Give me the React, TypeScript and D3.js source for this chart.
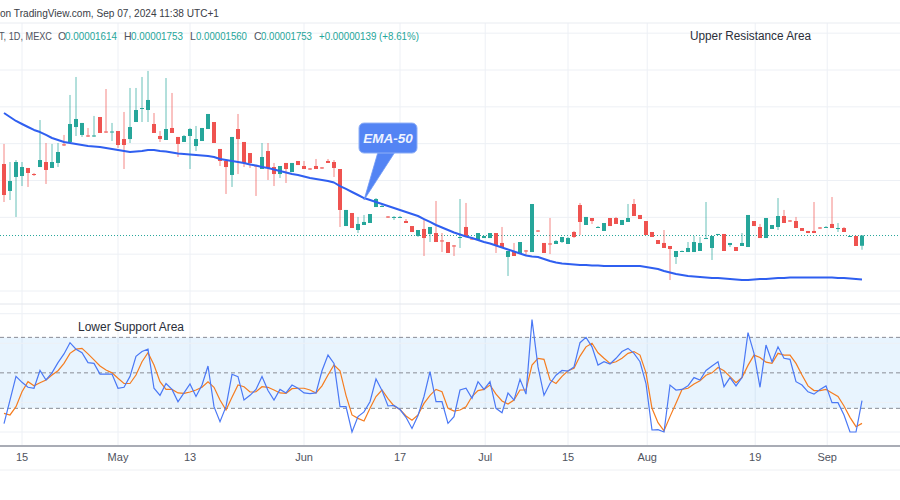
import React from 'react';
import * as d3 from 'd3';

const W = 900;
const H = 500;

// ---------- DATA (prices in units of 1e-5, daily candles) ----------
const open = [
  2.724, 2.358, 2.548, 2.561, 2.670, 2.588, 2.683, 2.751, 2.670, 2.738,
  2.990, 3.023, 3.226, 3.118, 3.111, 3.104, 3.362, 3.165, 3.158, 3.172,
  3.063, 3.063, 3.294, 3.477, 3.457, 3.267, 3.104, 3.050, 3.213, 3.091,
  3.023, 3.104, 2.968, 3.036, 3.199, 3.294, 2.928, 2.765, 2.575, 3.199,
  3.023, 2.873, 2.704, 2.656, 2.900, 2.683, 2.588, 2.738, 2.615, 2.765,
  2.697, 2.663, 2.697, 2.677, 2.765, 2.751, 2.656, 1.882, 2.059, 1.828,
  1.896, 1.923, 2.140, 2.147, 2.011, 1.998, 1.998, 1.950, 1.882, 1.747,
  1.842, 1.774, 1.787, 1.686, 1.665, 1.618, 1.726, 1.869, 1.713, 1.692,
  1.719, 1.719, 1.787, 1.652, 1.462, 1.543, 1.516, 1.550, 1.529, 1.821,
  1.652, 1.645, 1.638, 1.665, 1.638, 1.801, 2.167, 1.896, 1.991, 1.862,
  1.815, 1.991, 1.991, 1.896, 1.937, 2.181, 2.032, 1.950, 1.801, 1.692,
  1.652, 1.611, 1.462, 1.536, 1.529, 1.529, 1.543, 1.713, 1.584, 1.767,
  1.774, 1.624, 1.597, 1.611, 1.597, 1.950, 1.869, 1.719, 1.842, 1.869,
  2.018, 1.957, 1.950, 1.855, 1.815, 1.815, 1.862, 1.862, 1.910, 1.848,
  1.855, 1.740, 1.747, 1.614,
];
const high = [
  2.996, 2.751, 2.778, 2.751, 2.670, 2.602, 3.321, 3.009, 2.996, 3.009,
  3.118, 3.661, 3.905, 3.281, 3.213, 3.376, 3.362, 3.742, 3.281, 3.172,
  3.430, 3.756, 3.756, 3.905, 3.987, 3.416, 3.172, 3.891, 3.688, 3.091,
  3.118, 3.213, 3.240, 3.213, 3.403, 3.294, 2.928, 2.765, 3.091, 3.403,
  3.023, 2.873, 2.710, 3.009, 3.009, 2.738, 2.697, 2.738, 2.738, 2.765,
  2.765, 2.670, 2.792, 2.683, 2.792, 2.778, 2.656, 2.100, 2.059, 2.005,
  2.032, 2.045, 2.262, 2.167, 2.018, 2.018, 2.018, 1.977, 1.882, 1.828,
  1.964, 1.869, 2.222, 1.787, 1.665, 1.624, 2.249, 2.195, 1.719, 1.787,
  1.747, 1.787, 1.787, 1.869, 1.543, 1.652, 1.665, 1.557, 2.181, 1.828,
  1.652, 1.991, 1.692, 1.733, 1.733, 1.815, 2.195, 2.005, 1.991, 1.882,
  1.923, 1.991, 2.005, 1.964, 2.181, 2.249, 2.032, 1.950, 1.801, 1.692,
  1.828, 1.611, 1.543, 1.550, 1.665, 1.747, 1.733, 2.208, 1.747, 1.774,
  1.774, 1.652, 1.597, 1.787, 2.032, 1.950, 1.910, 1.991, 1.896, 2.262,
  2.100, 1.964, 2.005, 1.855, 1.815, 2.208, 1.869, 1.882, 2.276, 1.923,
  1.869, 1.747, 1.747, 1.753,
];
const low = [
  2.208, 2.235, 2.005, 2.425, 2.412, 2.561, 2.683, 2.453, 2.670, 2.683,
  2.968, 3.009, 3.104, 3.091, 3.091, 3.091, 3.145, 3.145, 3.036, 2.941,
  2.656, 3.009, 3.294, 3.294, 3.294, 3.145, 3.023, 3.050, 3.145, 2.819,
  3.023, 2.656, 2.900, 3.036, 3.199, 3.009, 2.697, 2.317, 2.412, 2.588,
  2.683, 2.670, 2.290, 2.656, 2.507, 2.425, 2.534, 2.466, 2.615, 2.710,
  2.656, 2.643, 2.656, 2.656, 2.738, 2.548, 1.869, 1.882, 1.855, 1.787,
  1.896, 1.923, 2.140, 2.140, 1.991, 1.964, 1.991, 1.923, 1.801, 1.733,
  1.475, 1.665, 1.665, 1.529, 1.516, 1.475, 1.584, 1.747, 1.692, 1.692,
  1.719, 1.719, 1.516, 1.584, 1.204, 1.475, 1.516, 1.489, 1.529, 1.801,
  1.516, 1.502, 1.638, 1.652, 1.638, 1.719, 1.760, 1.896, 1.910, 1.855,
  1.815, 1.882, 1.910, 1.896, 1.937, 2.018, 1.977, 1.760, 1.733, 1.638,
  1.584, 1.149, 1.367, 1.529, 1.529, 1.529, 1.543, 1.713, 1.421, 1.760,
  1.543, 1.597, 1.543, 1.611, 1.597, 1.882, 1.719, 1.719, 1.842, 1.828,
  1.923, 1.937, 1.855, 1.815, 1.787, 1.787, 1.842, 1.855, 1.855, 1.801,
  1.801, 1.733, 1.611, 1.560,
];
const close = [
  2.303, 2.493, 2.751, 2.683, 2.602, 2.575, 2.778, 2.643, 2.751, 2.887,
  2.982, 3.267, 3.335, 3.281, 3.104, 3.111, 3.145, 3.158, 3.165, 2.982,
  2.982, 3.226, 3.457, 3.484, 3.593, 3.145, 3.063, 3.199, 3.145, 2.996,
  3.104, 3.199, 3.063, 3.213, 3.403, 3.009, 2.765, 2.683, 3.091, 3.063,
  2.738, 2.738, 2.697, 2.819, 2.670, 2.588, 2.697, 2.656, 2.738, 2.710,
  2.656, 2.656, 2.656, 2.670, 2.738, 2.670, 2.100, 2.100, 1.855, 1.910,
  1.937, 2.045, 2.249, 2.154, 2.005, 2.005, 2.005, 1.923, 1.801, 1.828,
  1.719, 1.869, 1.665, 1.679, 1.516, 1.611, 1.733, 1.747, 1.706, 1.787,
  1.747, 1.787, 1.624, 1.584, 1.543, 1.475, 1.665, 1.543, 2.181, 1.815,
  1.516, 1.638, 1.679, 1.733, 1.719, 1.733, 1.937, 2.005, 1.950, 1.869,
  1.923, 1.882, 1.910, 1.964, 1.991, 2.018, 1.977, 1.760, 1.733, 1.638,
  1.584, 1.570, 1.543, 1.543, 1.584, 1.665, 1.652, 1.719, 1.747, 1.774,
  1.543, 1.652, 1.543, 1.652, 2.032, 1.882, 1.719, 1.991, 1.896, 2.018,
  1.923, 1.950, 1.855, 1.815, 1.787, 1.787, 1.855, 1.869, 1.855, 1.855,
  1.801, 1.747, 1.611, 1.753,
];
const ema50 = [
  3.416, 3.362, 3.308, 3.267, 3.226, 3.186, 3.158, 3.118, 3.077, 3.050,
  3.023, 3.009, 2.996, 2.982, 2.968, 2.962, 2.955, 2.941, 2.928, 2.914,
  2.900, 2.887, 2.894, 2.900, 2.914, 2.914, 2.900, 2.894, 2.880, 2.867,
  2.860, 2.853, 2.846, 2.839, 2.833, 2.819, 2.792, 2.778, 2.765, 2.751,
  2.738, 2.717, 2.704, 2.683, 2.670, 2.649, 2.629, 2.609, 2.588, 2.575,
  2.554, 2.534, 2.520, 2.507, 2.493, 2.473, 2.425, 2.385, 2.344, 2.303,
  2.262, 2.235, 2.208, 2.181, 2.154, 2.127, 2.100, 2.072, 2.045, 2.018,
  1.977, 1.937, 1.896, 1.862, 1.828, 1.794, 1.767, 1.740, 1.719, 1.692,
  1.665, 1.645, 1.618, 1.591, 1.563, 1.536, 1.509, 1.482, 1.468, 1.462,
  1.434, 1.407, 1.387, 1.373, 1.367, 1.360, 1.353, 1.353, 1.346, 1.346,
  1.339, 1.339, 1.339, 1.339, 1.339, 1.339, 1.339, 1.326, 1.312, 1.299,
  1.272, 1.251, 1.231, 1.217, 1.204, 1.197, 1.190, 1.183, 1.176, 1.176,
  1.170, 1.163, 1.156, 1.149, 1.149, 1.156, 1.163, 1.163, 1.170, 1.176,
  1.176, 1.183, 1.183, 1.183, 1.183, 1.183, 1.183, 1.183, 1.183, 1.176,
  1.176, 1.170, 1.163, 1.156,
];
const stochK = [
  7, 27, 47, 42, 37.8, 37, 52, 44, 50, 58.6,
  66, 75.5, 70, 67, 58.6, 58, 49, 49, 49, 37,
  37.8, 47, 64, 68, 70, 37, 31, 41, 36, 25.6,
  33, 40.6, 30, 39.7, 55.8, 21.4, 8.7, 21.4, 48.8, 46.8,
  27, 31, 36, 47, 35, 27, 36, 33, 39.7, 37,
  33, 32.5, 33, 51.8, 65, 58, 21.4, 21.4, 0, 13,
  17, 25.6, 44.8, 35, 22, 22.5, 19, 12.4, 3, 14,
  30, 51, 25.6, 25.6, 7.3, 13, 35.5, 37, 28.5, 42.5,
  36, 42.5, 20, 16.3, 33, 27, 44.5, 32, 95, 55,
  31, 41, 48, 52, 51.5, 55, 75.5, 80, 72, 56.6,
  59.4, 57.5, 62.3, 68, 70.7, 66.5, 59.4, 41, 1.7, 2,
  0, 39.7, 35.5, 36, 39, 46, 44, 52, 55.8, 59.4,
  38.3, 46, 39, 46, 84, 66.5, 37.8, 73.5, 59.4, 72,
  62.3, 61.4, 42.5, 39.7, 34, 32, 36, 39, 24.8, 24.8,
  14.4, 0, 0, 26.5,
];
const stochD = [
  15.8, 14.4, 21.4, 34, 42.5, 39, 41.7, 44, 48.2, 51.8,
  58, 66.5, 70, 70.7, 66, 61, 55.8, 52.4, 50, 45.4,
  41, 41, 48.2, 59.4, 67, 56.6, 42.5, 36, 36, 33,
  32.7, 33.8, 35.5, 37.8, 42.5, 37.8, 27, 18.6, 29.3, 39.7,
  38.3, 33.8, 34, 38.3, 37.8, 35.5, 33, 32.7, 36.6, 37,
  37, 35.5, 33, 39, 48.2, 56.6, 51.8, 31, 14.4, 11.5,
  9.3, 20, 30, 35.5, 28.2, 22, 19, 13.5, 10, 14.4,
  24.2, 31, 36, 34, 20, 17.7, 18.6, 21.4, 30, 35,
  36, 39.7, 32, 26.2, 23.7, 27, 35.5, 35.5, 56.6, 62.3,
  61.4, 44, 41, 47, 51.8, 53.8, 64.2, 72, 75, 67,
  62.3, 58, 59.4, 62.3, 66.5, 68, 65, 50, 20, 7.9,
  1, 13, 24.2, 36, 37, 40.6, 43.4, 48, 50, 54.5,
  51.8, 46.8, 41.7, 46, 56.3, 65, 63, 59, 58, 66.5,
  65, 65, 58, 48.2, 39, 35, 35, 36, 33, 30,
  22, 12.4, 4.5, 7.3,
];
const tickLabels = ['15', 'May', '13', 'Jun', '17', 'Jul', '15', 'Aug', '19', 'Sep'];
const tickIndex = [3, 19, 31, 50, 66, 80.2, 94, 107.2, 125.2, 137.2];
const priceGrid = [1.0, 1.5, 2.0, 2.5, 3.0, 3.5, 4.0, 4.5];
const stochGrid = [0, 25, 75, 100];
const stochLevels = [80, 50, 20];
const emaLabelIndex = 60;

const GREEN = '#26a69a';
const RED = '#ef5350';
const FONT = "'Liberation Sans', Arial, sans-serif";

export default function App() {
  const n = close.length;
  const x = d3.scaleLinear().domain([0, n - 1]).range([4, 862]);
  const yP = d3.scaleLinear().domain([1, 4]).range([291, 70]);
  const yS = d3.scaleLinear().domain([0, 100]).range([432, 313.7]);

  const idx = d3.range(n);
  const emaLine = d3.line<number>().x((i) => x(i)).y((i) => yP(ema50[i]))(idx) || '';
  const kLine = d3.line<number>().x((i) => x(i)).y((i) => yS(stochK[i]))(idx) || '';
  const dLine = d3.line<number>().x((i) => x(i)).y((i) => yS(stochD[i]))(idx) || '';

  const tipX = x(emaLabelIndex);
  const tipY = yP(ema50[emaLabelIndex]) + 2;
  const boxL = tipX - 5, boxT = tipY - 77, boxW = 58, boxH = 30;
  const lastClose = close[n - 1];

  const gridCol = '#edf0f5';
  const hdrY = 40;

  return (
    <svg width={W} height={H} style={{ position: 'absolute', left: 0, top: 0, background: '#fff' }}
      fontFamily={FONT}>
      <rect x={0} y={0} width={W} height={H} fill="#fff" />
      {tickIndex.map((t, k) => (
        <line key={'vg' + k} x1={x(t)} x2={x(t)} y1={23} y2={446} stroke={gridCol} strokeWidth={1} />
      ))}
      {priceGrid.map((p, k) => (
        <line key={'pg' + k} x1={0} x2={W} y1={yP(p)} y2={yP(p)} stroke={gridCol} strokeWidth={1} />
      ))}
      <line x1={0} x2={W} y1={23} y2={23} stroke="#e9ecf1" />
      <line x1={0} x2={W} y1={304} y2={304} stroke="#e3e6ec" />
      <rect x={0} y={yS(80)} width={W} height={yS(20) - yS(80)} fill="rgba(33,150,243,0.1)" />
      {stochGrid.map((v, k) => (
        <line key={'sg' + k} x1={0} x2={W} y1={yS(v)} y2={yS(v)} stroke={gridCol} strokeWidth={1} />
      ))}
      {stochLevels.map((v, k) => (
        <line key={'sl' + k} x1={0} x2={W} y1={yS(v)} y2={yS(v)} stroke="#8a8d96" strokeWidth={1} strokeDasharray="4 3" />
      ))}

      <line x1={0} x2={W} y1={yP(lastClose)} y2={yP(lastClose)} stroke={GREEN} strokeWidth={1} strokeDasharray="1 2" />

      {idx.map((i) => {
        const up = close[i] >= open[i];
        const col = up ? GREEN : RED;
        const top = yP(Math.max(open[i], close[i]));
        const bot = yP(Math.min(open[i], close[i]));
        return (
          <g key={'c' + i}>
            <line x1={x(i)} x2={x(i)} y1={yP(high[i])} y2={yP(low[i])} stroke={col} strokeOpacity={0.7} strokeWidth={1} />
            <rect x={x(i) - 2} y={top} width={4} height={Math.max(1, bot - top)} fill={col} />
          </g>
        );
      })}

      <path d={emaLine} fill="none" stroke="#2f5ff0" strokeWidth={2} strokeLinejoin="round" />

      <path d={`M${tipX + 14},${boxT + boxH - 1} L${tipX + 31},${boxT + boxH - 1} L${tipX},${tipY} Z`}
        fill="#5384f4" stroke="#6f98f5" strokeWidth={0.8} />
      <rect x={boxL} y={boxT} width={boxW} height={boxH} rx={5} fill="#5384f4" stroke="#8fb0f7" strokeWidth={1} />
      <text x={boxL + boxW / 2} y={boxT + 20} textAnchor="middle" fill="#eef3ff" fontSize={13.5}
        fontStyle="italic" fontWeight={600}>EMA-50</text>

      <path d={dLine} fill="none" stroke="#f57c1f" strokeWidth={1.2} />
      <path d={kLine} fill="none" stroke="#4a78f5" strokeWidth={1.2} />

      <line x1={0} x2={W} y1={446} y2={446} stroke="#a9acb5" strokeWidth={2} />
      <line x1={0} x2={W} y1={470} y2={470} stroke="#eef0f3" strokeWidth={1} />
      {tickIndex.map((t, k) => (
        <text key={'tl' + k} x={x(t)} y={461} textAnchor="middle" fontSize={11} fill="#50535e">{tickLabels[k]}</text>
      ))}

      <text x={0} y={17} fontSize={11.5} fill="#3a3d46" textLength={219} lengthAdjust="spacingAndGlyphs">
        on TradingView.com, Sep 07, 2024 11:38 UTC+1
      </text>
      <text x={-1} y={hdrY} fontSize={10.5} fill="#50535e" textLength={53} lengthAdjust="spacingAndGlyphs">T, 1D, MEXC</text>
      <text x={58} y={hdrY} fontSize={10.5} fill="#50535e">O</text>
      <text x={65} y={hdrY} fontSize={10.5} fill={GREEN} textLength={52} lengthAdjust="spacingAndGlyphs">0.00001614</text>
      <text x={124} y={hdrY} fontSize={10.5} fill="#50535e">H</text>
      <text x={131} y={hdrY} fontSize={10.5} fill={GREEN} textLength={52} lengthAdjust="spacingAndGlyphs">0.00001753</text>
      <text x={190} y={hdrY} fontSize={10.5} fill="#50535e">L</text>
      <text x={196} y={hdrY} fontSize={10.5} fill={GREEN} textLength={51} lengthAdjust="spacingAndGlyphs">0.00001560</text>
      <text x={254} y={hdrY} fontSize={10.5} fill="#50535e">C</text>
      <text x={261} y={hdrY} fontSize={10.5} fill={GREEN} textLength={51} lengthAdjust="spacingAndGlyphs">0.00001753</text>
      <text x={319} y={hdrY} fontSize={10.5} fill={GREEN} textLength={100} lengthAdjust="spacingAndGlyphs">+0.00000139 (+8.61%)</text>

      <text x={690} y={40} fontSize={12.5} fill="#2a2e39" textLength={121} lengthAdjust="spacingAndGlyphs">Upper Resistance Area</text>
      <text x={78} y={331} fontSize={12.5} fill="#2a2e39" textLength={106} lengthAdjust="spacingAndGlyphs">Lower Support Area</text>
    </svg>
  );
}
